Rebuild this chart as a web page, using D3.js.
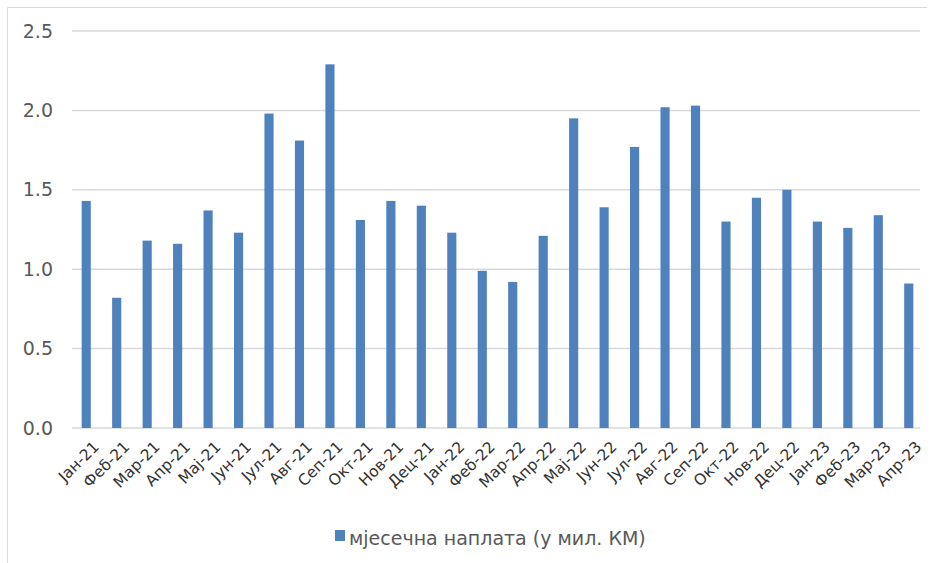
<!DOCTYPE html>
<html lang="sr">
<head>
  <meta charset="UTF-8" />
  <title>Мјесечна наплата</title>
  <style>
    body { margin: 0; background: #fff; }
    text { font-family: "DejaVu Sans", Verdana, sans-serif; }
  </style>
</head>
<body>
  <div class="chart"></div>
  <script src="https://cdn.jsdelivr.net/npm/d3@7"></script>
  <script>
    var months = ["Јан-21", "Феб-21", "Мар-21", "Апр-21", "Мај-21", "Јун-21", "Јул-21",
      "Авг-21", "Сеп-21", "Окт-21", "Нов-21", "Дец-21", "Јан-22", "Феб-22", "Мар-22",
      "Апр-22", "Мај-22", "Јун-22", "Јул-22", "Авг-22", "Сеп-22", "Окт-22", "Нов-22",
      "Дец-22", "Јан-23", "Феб-23", "Мар-23", "Апр-23"];
    var values = [1.43, 0.82, 1.18, 1.16, 1.37, 1.23, 1.98, 1.81, 2.29, 1.31, 1.43, 1.40,
      1.23, 0.99, 0.92, 1.21, 1.95, 1.39, 1.77, 2.02, 2.03, 1.30, 1.45, 1.50,
      1.30, 1.26, 1.34, 0.91];
    var yTicks = [0, 0.5, 1.0, 1.5, 2.0, 2.5];
    var seriesName = "мјесечна наплата (у мил. КМ)";

    var w = 933, h = 563;
    var svg = d3.select(".chart").append("svg")
      .attr("width", w)
      .attr("height", h);

    // chart frame (left + top edges visible)
    svg.append("path")
      .attr("d", "M7.5," + h + "V7.5H927")
      .attr("fill", "none")
      .attr("stroke", "#d9d9d9");

    var x = d3.scaleBand()
      .domain(months)
      .range([71, 924])
      .paddingInner(0.7)
      .paddingOuter(0.35);

    var y = d3.scaleLinear()
      .domain([0, 2.5])
      .range([428, 31]);

    // gridlines
    svg.append("g")
      .selectAll("line")
      .data(yTicks)
      .enter()
      .append("line")
      .attr("x1", 72)
      .attr("x2", 920)
      .attr("y1", function(d) { return y(d); })
      .attr("y2", function(d) { return y(d); })
      .attr("stroke", "#d9d9d9")
      .attr("stroke-width", 1.5);

    // y labels
    var yAxis = d3.axisLeft(y)
      .tickValues(yTicks)
      .tickSize(0)
      .tickPadding(0)
      .tickFormat(d3.format(".1f"));
    var gy = svg.append("g")
      .attr("transform", "translate(53,0)")
      .call(yAxis);
    gy.select(".domain").remove();
    gy.selectAll("text")
      .attr("font-family", "DejaVu Sans, sans-serif")
      .attr("font-size", "19px")
      .attr("fill", "#595959");

    // bars
    svg.append("g")
      .selectAll("rect")
      .data(values)
      .enter()
      .append("rect")
      .attr("x", function(d, i) { return x(months[i]); })
      .attr("width", x.bandwidth())
      .attr("y", function(d) { return y(d); })
      .attr("height", function(d) { return y(0) - y(d); })
      .attr("fill", "#4f81bd");

    // x labels
    svg.append("g")
      .selectAll("text")
      .data(months)
      .enter()
      .append("text")
      .attr("transform", function(d) {
        var cx = x(d) + x.bandwidth() / 2 + 6;
        return "translate(" + cx + ",440) rotate(-45)";
      })
      .attr("text-anchor", "end")
      .attr("dy", "0.7em")
      .attr("font-size", "15.5px")
      .attr("fill", "#333333")
      .text(function(d) { return d; });

    // legend
    var legend = svg.append("g");
    legend.append("rect")
      .attr("x", 335)
      .attr("y", 530)
      .attr("width", 10)
      .attr("height", 11)
      .attr("fill", "#4f81bd");
    legend.append("text")
      .attr("x", 349)
      .attr("y", 545)
      .attr("font-size", "19px")
      .attr("fill", "#595959")
      .text(seriesName);
  </script>
</body>
</html>
